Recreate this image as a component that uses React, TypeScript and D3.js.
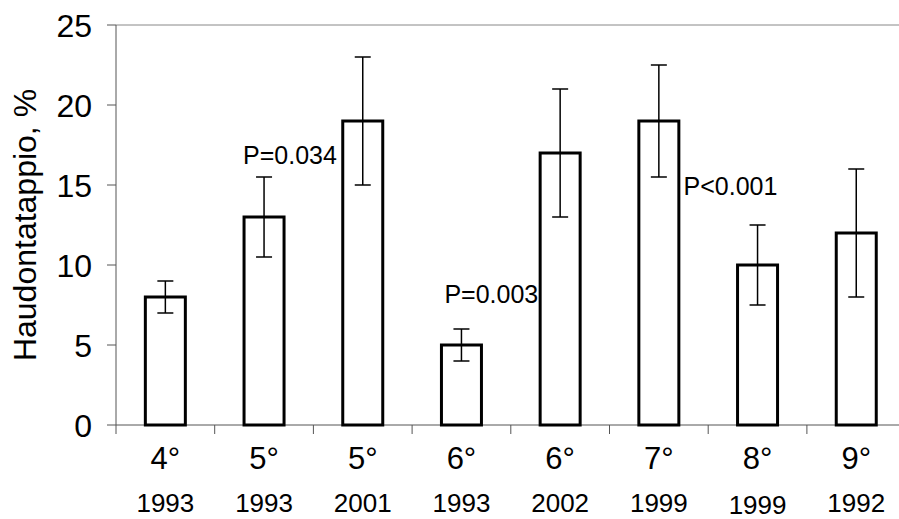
import * as d3 from "d3";

const degrees = ["4°", "5°", "5°", "6°", "6°", "7°", "8°", "9°"];
const years = ["1993", "1993", "2001", "1993", "2002", "1999", "1999", "1992"];
const values = [8, 13, 19, 5, 17, 19, 10, 12];
const lows = [7, 10.5, 15, 4, 13, 15.5, 7.5, 8];
const highs = [9, 15.5, 23, 6, 21, 22.5, 12.5, 16];
const yTicks = [0, 5, 10, 15, 20, 25];
const notes = [
  { text: "P=0.034", i: 1, v: 16.3, dx: -21 },
  { text: "P=0.003", i: 3, v: 7.6, dx: -17 },
  { text: "P<0.001", i: 6, v: 14.4, dx: -74 },
];

export default function App() {
  const width = 899;
  const height = 519;
  const left = 116;
  const band = 98.7;
  const x = d3.scaleBand<number>().domain(d3.range(9)).range([left, left + 9 * band]);
  const y = d3.scaleLinear([0, 25], [425, 25]);
  const bw = 40;
  const font = "Liberation Sans, Arial, sans-serif";
  return (
    <svg width={width} height={height} style={{ position: "absolute", left: 0, top: 0 }} fontFamily={font}>
      <line x1={left} x2={width} y1={y(25)} y2={y(25)} stroke="#888" />
      <line x1={left} x2={width} y1={y(0)} y2={y(0)} stroke="#555" />
      <line x1={left} x2={left} y1={y(25)} y2={y(0)} stroke="#555" />
      {yTicks.map((t) => (
        <g key={t}>
          <line x1={left - 9} x2={left} y1={y(t)} y2={y(t)} stroke="#555" />
          <text x={left - 24} y={y(t)} dy="0.36em" textAnchor="end" fontSize={32}>{t}</text>
        </g>
      ))}
      {d3.range(9).map((k) => (
        <line key={k} x1={x(k)} x2={x(k)} y1={y(0)} y2={y(0) + 9} stroke="#555" />
      ))}
      {values.map((v, i) => {
        const cx = (x(i) as number) + band / 2;
        return (
          <g key={i}>
            <rect x={cx - bw / 2} y={y(v)} width={bw} height={y(0) - y(v)} fill="white" stroke="black" strokeWidth={3} />
            <line x1={cx} x2={cx} y1={y(lows[i])} y2={y(highs[i])} stroke="black" strokeWidth={1.5} />
            <line x1={cx - 8} x2={cx + 8} y1={y(lows[i])} y2={y(lows[i])} stroke="black" strokeWidth={1.5} />
            <line x1={cx - 8} x2={cx + 8} y1={y(highs[i])} y2={y(highs[i])} stroke="black" strokeWidth={1.5} />
            <text x={cx} y={469} textAnchor="middle" fontSize={31}>{degrees[i]}</text>
            <text x={cx} y={i === 6 ? 514 : 512} textAnchor="middle" fontSize={26}>{years[i]}</text>
          </g>
        );
      })}
      {notes.map((n) => (
        <text key={n.text} x={(x(n.i) as number) + band / 2 + n.dx} y={y(n.v)} fontSize={25}>{n.text}</text>
      ))}
      <text transform={`translate(36,${y(12.5)}) rotate(-90)`} textAnchor="middle" fontSize={32}>Haudontatappio, %</text>
    </svg>
  );
}
